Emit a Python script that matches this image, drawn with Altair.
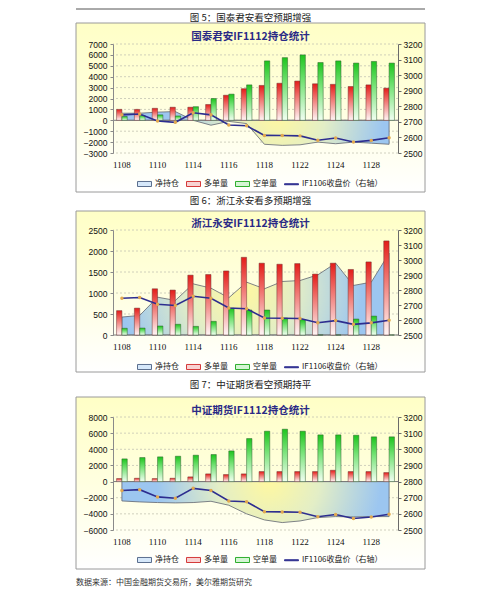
import altair as alt
import pandas as pd

# ---------------- data ----------------
dates = ["1108", "1109", "1110", "1111", "1114", "1115", "1116", "1117",
         "1118", "1121", "1122", "1123", "1124", "1125", "1128", "1129"]
label_dates = ["1108", "1110", "1114", "1116", "1118", "1122", "1124", "1128"]
close_price = [2745, 2750, 2705, 2697, 2758, 2745, 2680, 2675,
               2613, 2612, 2610, 2582, 2596, 2571, 2581, 2598]

gtja_long = [1000, 1000, 1100, 1200, 1200, 1450, 2300, 2900,
             3200, 3400, 3600, 3350, 3300, 3100, 3250, 2950]
gtja_short = [350, 450, 500, 400, 1250, 2000, 2400, 3250,
              5450, 5750, 6000, 5300, 5450, 5250, 5400, 5250]
gtja_net = [650, 650, 750, 800, 0, -450, -100, -300,
            -2200, -2300, -2250, -2000, -2150, -2000, -2100, -2200]

zjya_long = [580, 640, 1100, 1070, 1425, 1440, 1525, 1850,
             1710, 1685, 1700, 1450, 1710, 1560, 1740, 2240]
zjya_short = [160, 165, 215, 255, 205, 325, 640, 595,
              595, 405, 365, 0, 0, 380, 450, 0]
zjya_net = [427, 467, 900, 823, 1218, 1115, 886, 1258,
            1100, 1274, 1297, 1432, 1710, 1180, 1258, 1946]

zzqh_long = [370, 410, 370, 410, 580, 950, 870, 950,
             1240, 1240, 1240, 1240, 1400, 1240, 1240, 1115]
zzqh_short = [2810, 2975, 3060, 3140, 3265, 3350, 3800, 5330,
              6240, 6490, 6240, 5785, 5785, 5740, 5540, 5540]
zzqh_net = [-2400, -2520, -2600, -2645, -2600, -2440, -2930, -4000,
            -4750, -5080, -4880, -4460, -4340, -4380, -4340, -4340]

ticks_1 = [-3000, -2000, -1000, 0, 1000, 2000, 3000, 4000, 5000, 6000, 7000]
ticks_2 = [0, 500, 1000, 1500, 2000, 2500]
ticks_3 = [-6000, -4000, -2000, 0, 2000, 4000, 6000, 8000]
right_ticks = [2500, 2600, 2700, 2800, 2900, 3000, 3100, 3200]

legend_names = ["净持仓", "多单量", "空单量", "IF1106收盘价（右轴）"]
bar_names = ["多单量", "空单量"]
captions = ["图 5：国泰君安看空预期增强", "图 6：浙江永安看多预期增强", "图 7：中证期货看空预期持平"]
titles = ["国泰君安IF1112持仓统计", "浙江永安IF1112持仓统计", "中证期货IF1112持仓统计"]
footer = "数据来源：中国金融期货交易所，美尔雅期货研究"

# ---------------- styling helpers ----------------
W = 285
CJK = "Noto Sans CJK SC"
one = pd.DataFrame({"k": [0]})


def lin(stops):
    return {"gradient": "linear", "x1": 0, "y1": 0, "x2": 0, "y2": 1,
            "stops": [{"offset": o, "color": c} for o, c in stops]}


def rad(cx, cy, r):
    return {"gradient": "radial", "x1": cx, "y1": cy, "r1": 0,
            "x2": cx, "y2": cy, "r2": r,
            "stops": [{"offset": 0, "color": "#fff8a0"},
                      {"offset": 0.45, "color": "#e3eec6"},
                      {"offset": 1, "color": "#9cc6f0"}]}


box_grad = lin([(0, "#ffffc6"), (0.5, "#ffffe0"), (1, "#ffffff")])
red_grad = lin([(0, "#e31d1a"), (0.35, "#ef6b66"), (1, "#fff6f6")])
green_grad = lin([(0, "#1ec41e"), (0.4, "#74e274"), (1, "#f2fff2")])

leg_fill = ["#d6e8fa", "#f8d2d2", "#d4f5d4", "#2d2d8f"]
leg_stroke = ["#5b6f8e", "#d43a3a", "#2fae2f", "#2d2d8f"]
rect_path = "M-1,-0.36H1V0.36H-1Z"
line_path = "M-1,-0.07H1V0.07H-1Z"
leg_shape = [rect_path, rect_path, rect_path, line_path]


def panel(idx, long_v, short_v, net_v, ldom, lticks, H, cfg):
    xs = alt.Scale(domain=dates, paddingInner=0.4, paddingOuter=0.2)
    rs = alt.Scale(domain=[2500, 3200], nice=False, zero=False)

    def ls():
        return alt.Scale(domain=ldom, nice=False, zero=False)

    x_axis = alt.Axis(orient="bottom", values=label_dates, labelAngle=0, title=None,
                      domain=False, ticks=False, grid=False, labelFont="Liberation Serif",
                      labelFontSize=9, labelPadding=7, labelColor="#111", zindex=1)
    left_axis = alt.Axis(orient="left", values=lticks, format="d", title=None, grid=False,
                         domainColor="#8a8a8a", tickColor="#8a8a8a", tickSize=3,
                         labelFont="Liberation Sans", labelFontSize=8.5, labelPadding=3,
                         labelColor="#111", zindex=1)
    right_axis = alt.Axis(orient="right", values=right_ticks, format="d", title=None, grid=False,
                          domainColor="#6a6a6a", tickColor="#6a6a6a", tickSize=3,
                          labelFont="Liberation Sans", labelFontSize=8.5, labelPadding=2,
                          labelColor="#111", zindex=1)

    bars_df = pd.DataFrame({"date": dates * 2,
                            "series": ["多单量"] * len(dates) + ["空单量"] * len(dates),
                            "value": list(long_v) + list(short_v)})
    net_df = pd.DataFrame({"date": dates, "value": net_v})
    price_df = pd.DataFrame({"date": dates, "price": close_price})
    grid_df = pd.DataFrame({"v": lticks})
    leg_df = pd.DataFrame({"series": legend_names})

    layers = []
    if idx == 0:
        layers.append(alt.Chart(one).mark_rule(color="#555555", strokeWidth=1).encode(
            x=alt.value(-37), x2=alt.value(312), y=alt.value(cfg["guard"])))
    else:
        layers.append(alt.Chart(one).mark_rect(fill="#ffffff").encode(
            x=alt.value(-37), x2=alt.value(312), y=alt.value(cfg["guard"]),
            y2=alt.value(cfg["guard"] + 1)))
    layers.append(alt.Chart(one).mark_rect(fill=box_grad, stroke="#9a9a9a", strokeWidth=1).encode(
        x=alt.value(-37), x2=alt.value(312), y=alt.value(cfg["box_top"]),
        y2=alt.value(cfg["box_bottom"])))
    layers.append(alt.Chart(one).mark_text(text=captions[idx], font=CJK, fontSize=9.5,
                                           color="#222222", align="center", baseline="middle").encode(
        x=alt.value(137.5), y=alt.value(cfg["caption"])))
    layers.append(alt.Chart(one).mark_text(text=titles[idx], font=CJK, fontSize=10.5,
                                           fontWeight="bold", color="#2a2a86",
                                           align="center", baseline="middle").encode(
        x=alt.value(137.5), y=alt.value(cfg["title"])))
    if idx == 2:
        layers.append(alt.Chart(one).mark_text(text=footer, font=CJK, fontSize=8,
                                               color="#333333", align="left",
                                               baseline="middle").encode(
            x=alt.value(-37), y=alt.value(cfg["footer"])))
    layers.append(alt.Chart(grid_df).mark_rule(color="#c4c4b4", strokeWidth=0.8,
                                               strokeDash=[2, 2]).encode(
        y=alt.Y("v:Q", scale=ls(), axis=None)))
    layers.append(alt.Chart(net_df).mark_area(fill=rad(*cfg["glow"]), opacity=1,
                                              stroke="#5f6470", strokeWidth=0.8).encode(
        x=alt.X("date:N", scale=xs, axis=x_axis),
        y=alt.Y("value:Q", scale=ls(), axis=left_axis)))
    layers.append(alt.Chart(one).mark_rule(color="#7a7a7a", strokeWidth=1).encode(
        y=alt.YDatum(0, scale=ls(), axis=None)))
    layers.append(alt.Chart(bars_df).transform_filter(alt.datum.series == "多单量").mark_bar(
        fill=red_grad, stroke="#6e3434", strokeWidth=0.5).encode(
        x=alt.X("date:N", scale=xs, axis=x_axis),
        xOffset=alt.XOffset("series:N", scale=alt.Scale(domain=bar_names, paddingInner=0, paddingOuter=0)),
        y=alt.Y("value:Q", scale=ls(), axis=None)))
    layers.append(alt.Chart(bars_df).transform_filter(alt.datum.series == "空单量").mark_bar(
        fill=green_grad, stroke="#2f5e2f", strokeWidth=0.5).encode(
        x=alt.X("date:N", scale=xs, axis=x_axis),
        xOffset=alt.XOffset("series:N", scale=alt.Scale(domain=bar_names, paddingInner=0, paddingOuter=0)),
        y=alt.Y("value:Q", scale=ls(), axis=None)))
    lk = dict(orient="none", legendX=cfg["legx"], legendY=cfg["legy"], direction="horizontal",
              columns=4, title=None, labelFont=CJK, labelFontSize=8, labelColor="#222222",
              symbolSize=196, columnPadding=5, labelOffset=3, symbolStrokeWidth=1,
              labelLimit=300, padding=0)
    layers.append(alt.Chart(leg_df).transform_filter("false").mark_point(
        filled=True, opacity=1, strokeWidth=1).encode(
        fill=alt.Fill("series:N", scale=alt.Scale(domain=legend_names, range=leg_fill), legend=alt.Legend(**lk)),
        stroke=alt.Stroke("series:N", scale=alt.Scale(domain=legend_names, range=leg_stroke), legend=alt.Legend(**lk)),
        shape=alt.Shape("series:N", scale=alt.Scale(domain=legend_names, range=leg_shape), legend=alt.Legend(**lk))))
    layers.append(alt.Chart(price_df).mark_line(color="#2d2d8f", strokeWidth=1.6).encode(
        x=alt.X("date:N", scale=xs, axis=x_axis),
        y=alt.Y("price:Q", scale=rs, axis=right_axis)))
    layers.append(alt.Chart(price_df).mark_point(filled=True, color="#e2a94f", size=12, opacity=1).encode(
        x=alt.X("date:N", scale=xs, axis=x_axis),
        y=alt.Y("price:Q", scale=rs, axis=None)))
    return alt.layer(*layers).resolve_scale(y="independent").properties(width=W, height=H)


p1 = panel(0, gtja_long, gtja_short, gtja_net, [-3000, 7000], ticks_1, 109,
           dict(guard=-35, box_top=-21, box_bottom=148, caption=-26, title=-7,
                legx=24, legy=132, glow=(0.58, 0.45, 0.4)))
p2 = panel(1, zjya_long, zjya_short, zjya_net, [0, 2500], ticks_2, 105,
           dict(guard=-36.5, box_top=-19, box_bottom=142, caption=-29, title=-6,
                legx=24, legy=129, glow=(0.45, 0.48, 0.45)))
p3 = panel(2, zzqh_long, zzqh_short, zzqh_net, [-6000, 8000], ticks_3, 113,
           dict(guard=-43.5, box_top=-20, box_bottom=152, caption=-32, title=-6,
                footer=166, legx=24, legy=135, glow=(0.55, 0.42, 0.42)))

chart = alt.vconcat(p1, p2, p3, spacing=0).resolve_scale(
    fill="independent", stroke="independent", shape="independent"
).properties(
    padding={"left": 67, "top": 0, "right": 4, "bottom": 4}, background="white"
).configure_view(stroke=None)

chart.save("out.html", embed_options={"renderer": "svg", "actions": False})
